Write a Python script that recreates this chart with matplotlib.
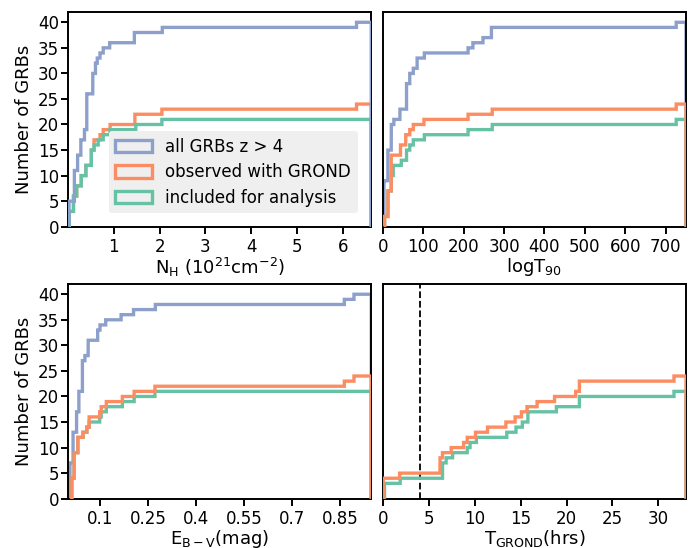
import numpy as np
import matplotlib
matplotlib.use('Agg')
import matplotlib.pyplot as plt

plt.rcParams['font.family'] = 'DejaVu Sans'
plt.rcParams['mathtext.default'] = 'regular'

# colours (Set2)
c_all = '#8da0cb'
c_obs = '#fc8d62'
c_inc = '#66c2a5'

labels = ['all GRBs z > 4', 'observed with GROND', 'included for analysis']

# NH (10^21 cm^-2)
nh_all = [0.02, 0.02, 0.02, 0.02, 0.02,
          0.14, 0.14, 0.14, 0.14, 0.14, 0.14,
          0.21, 0.21, 0.21, 0.28, 0.28, 0.28, 0.36, 0.36,
          0.41, 0.41, 0.41, 0.41, 0.41, 0.41, 0.41,
          0.54, 0.54, 0.54, 0.54, 0.60, 0.60,
          0.64, 0.70, 0.77, 0.91, 1.45, 1.45, 2.06, 6.30]
nh_obs = [0.03, 0.03, 0.03, 0.12, 0.12, 0.12, 0.19, 0.19, 0.29, 0.29,
          0.39, 0.39, 0.51, 0.51, 0.51, 0.57, 0.57, 0.70, 0.77, 0.92,
          1.46, 1.46, 2.05, 6.30]
nh_inc = [0.03, 0.03, 0.03, 0.12, 0.12, 0.12, 0.19, 0.19, 0.29, 0.29,
          0.39, 0.39, 0.51, 0.51, 0.51, 0.57, 0.66, 0.77, 0.92, 1.48,
          2.05]

# T90
t90_all = [3, 3, 3, 3, 3, 3, 3, 3, 3,
           12.8, 12.8, 12.8, 12.8, 12.8, 12.8,
           21, 21, 21, 21, 21, 27.6, 42.5, 42.5,
           59, 59, 59, 59, 59, 67, 67, 75.5, 85, 85,
           103, 211, 223, 248, 269, 269, 726]
t90_obs = [4.5, 4.5, 12.8, 12.8, 12.8, 12.8, 12.8,
           21, 21, 21, 21, 21, 21, 21, 44, 44, 57, 57,
           67, 75.5, 102, 211, 271, 726]
t90_inc = [4.5, 4.5, 12.8, 12.8, 12.8, 12.8, 12.8, 21, 21, 21,
           26, 26, 46, 59, 59, 67, 75.5, 103, 211, 271, 726]

# E(B-V)
ebv_all = [0.006, 0.006, 0.006, 0.006, 0.006, 0.006, 0.006,
           0.016, 0.016, 0.016, 0.016, 0.016, 0.016,
           0.027, 0.027, 0.027, 0.027, 0.034, 0.034, 0.034, 0.034,
           0.045, 0.045, 0.045, 0.045, 0.045, 0.045, 0.053,
           0.063, 0.063, 0.063, 0.093, 0.093, 0.10, 0.118,
           0.166, 0.205, 0.273, 0.864, 0.894]
ebv_obs = [0.012, 0.012, 0.012, 0.012, 0.019, 0.019, 0.019, 0.019, 0.019,
           0.031, 0.031, 0.031, 0.047, 0.059, 0.066, 0.066,
           0.099, 0.104, 0.12, 0.17, 0.207, 0.272, 0.864, 0.894]
ebv_inc = [0.012, 0.012, 0.012, 0.012, 0.019, 0.019, 0.019, 0.019, 0.019,
           0.031, 0.031, 0.031, 0.047, 0.059, 0.066,
           0.099, 0.104, 0.12, 0.17, 0.207, 0.272]

# T_GROND (hrs)
tg_obs = [0.05, 0.05, 0.05, 0.05, 1.84, 6.23, 6.23, 6.23, 6.5, 7.45,
          8.8, 9.2, 10.1, 11.4, 13.4, 14.4, 15.1, 15.7, 16.8, 18.7,
          21.0, 21.4, 21.4, 31.7]
tg_inc = [0.2, 0.2, 0.2, 1.9, 6.5, 6.5, 6.5, 6.9, 7.6, 9.2, 9.5,
          10.2, 13.5, 14.5, 15.2, 15.8, 15.8, 18.9, 21.4, 21.4, 31.7]

nh_ticks = [1, 2, 3, 4, 5, 6]
t90_ticks = [0, 100, 200, 300, 400, 500, 600, 700]
ebv_ticks = [0.1, 0.25, 0.4, 0.55, 0.7, 0.85]
ebv_ticklabels = ['0.1', '0.25', '0.4', '0.55', '0.7', '0.85']
tg_ticks = [0, 5, 10, 15, 20, 25, 30]
y_ticks = [0, 5, 10, 15, 20, 25, 30, 35, 40]

fig, axes = plt.subplots(2, 2, figsize=(6.92, 5.48), dpi=100)
fig.subplots_adjust(left=0.0983, right=0.9913, top=0.978, bottom=0.09,
                    wspace=0.038, hspace=0.267)

panels = [
    (axes[0, 0], [nh_all, nh_obs, nh_inc], 6.62, r'N$_{H}$ (10$^{21}$cm$^{-2}$)', True),
    (axes[0, 1], [t90_all, t90_obs, t90_inc], 750, r'logT$_{90}$', False),
    (axes[1, 0], [ebv_all, ebv_obs, ebv_inc], 0.948, r'E$_{B-V}$(mag)', False),
    (axes[1, 1], [None, tg_obs, tg_inc], 33, r'T$_{GROND}$(hrs)', False),
]

for ax, sets, xmax, xlab, green_top in panels:
    vals = np.concatenate([s for s in sets if s is not None])
    bins = np.linspace(vals.min(), xmax, 3000)
    zs = [3, 2.5, 2.8] if green_top else [2.4, 2.8, 2.6]
    for data, col, lab, z in zip(sets, [c_all, c_obs, c_inc], labels, zs):
        if data is None:
            continue
        ax.hist(data, bins=bins, cumulative=True, histtype='step',
                color=col, lw=2.4, label=lab, zorder=z)
    ax.set_xlim(0, xmax)
    ax.set_ylim(0, 42)
    ax.set_yticks(y_ticks)
    ax.set_xlabel(xlab, fontsize=13, labelpad=0)
    for sp in ax.spines.values():
        sp.set_linewidth(1.4)
    ax.tick_params(direction='out', length=4.8, width=1.4, labelsize=12)
    ax.tick_params(axis='x', pad=3)
    ax.tick_params(axis='y', pad=1.5)

axes[0, 0].set_xticks(nh_ticks)
axes[0, 1].set_xticks(t90_ticks)
axes[1, 0].set_xticks(ebv_ticks)
axes[1, 0].set_xticklabels(ebv_ticklabels)
axes[1, 1].set_xticks(tg_ticks)

for ax in [axes[0, 0], axes[1, 0]]:
    ax.set_ylabel('Number of GRBs', fontsize=13)
for ax in [axes[0, 1], axes[1, 1]]:
    ax.tick_params(axis='y', left=False, labelleft=False)

axes[1, 1].axvline(4, color='k', ls='--', lw=1.3)

leg = axes[0, 0].legend(loc='lower right', fontsize=12, frameon=True,
                        facecolor='#efefef', edgecolor='none', framealpha=1,
                        handlelength=2.2, handleheight=0.8,
                        borderaxespad=0.8, labelspacing=0.45)

fig.savefig('out.png', dpi=100)
